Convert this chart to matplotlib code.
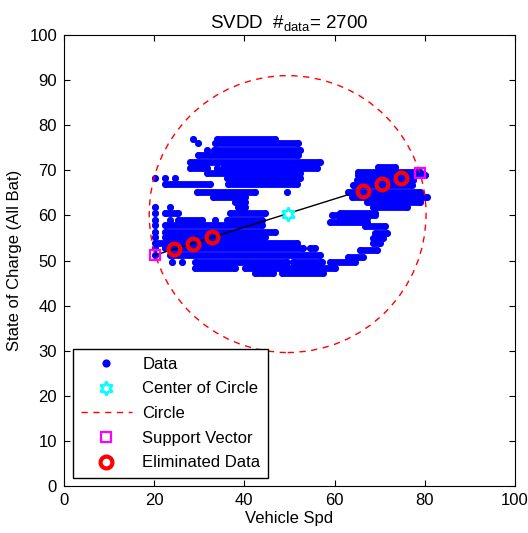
"""SVDD result on vehicle speed vs. state of charge (MATLAB-style figure)."""
import matplotlib
matplotlib.use("Agg")
import matplotlib.pyplot as plt
from matplotlib.lines import Line2D
from matplotlib.patches import Circle

plt.rcParams["font.family"] = ["Liberation Sans", "DejaVu Sans"]
plt.rcParams["mathtext.fontset"] = "custom"
plt.rcParams["mathtext.rm"] = "Liberation Sans"
plt.rcParams["mathtext.it"] = "Liberation Sans"

# data rows: (soc level, speed from, speed to)
data_rows = [
    # upper cluster
    (76.9, 28.6, 28.6), (76.9, 33.9, 46.8),
    (76.1, 29.7, 29.7), (76.1, 33.5, 51.9),
    (74.5, 31.7, 31.7), (74.5, 33.2, 52.3),
    (73.4, 29.7, 51.9),
    (71.8, 27.9, 56.8),
    (70.5, 27.9, 30.8), (70.5, 31.7, 31.7), (70.5, 33.9, 33.9), (70.5, 35.3, 56.1),
    (69.4, 31.7, 52.3),
    (68.3, 20.2, 20.2), (68.3, 22.4, 22.4), (68.3, 24.6, 24.6), (68.3, 36.1, 52.3),
    (67.0, 22.4, 32.4), (67.0, 36.4, 51.7),
    (65.2, 29.5, 42.4), (65.2, 49.4, 49.4),
    (64.1, 33.0, 40.1),
    (63.0, 37.9, 40.1),
    (61.9, 20.2, 20.2), (61.9, 23.5, 23.5), (61.9, 38.6, 40.1),
    # middle cluster
    (60.5, 20.2, 20.2), (60.5, 22.4, 25.3), (60.5, 36.8, 44.6),
    (59.0, 20.2, 20.2), (59.0, 23.5, 23.5), (59.0, 25.3, 30.6), (59.0, 33.5, 33.5),
    (59.0, 36.1, 43.9),
    (57.9, 20.2, 20.2), (57.9, 22.4, 43.9),
    (56.3, 20.2, 20.2), (56.3, 22.4, 46.8),
    (55.2, 20.2, 20.2), (55.2, 22.4, 44.6),
    (53.9, 20.2, 51.7),
    (52.8, 20.2, 20.2), (52.8, 22.4, 53.0), (52.8, 54.5, 55.7),
    (51.2, 20.2, 20.2), (51.2, 23.5, 56.8),
    (49.7, 23.9, 23.9), (49.7, 26.2, 26.2), (49.7, 29.0, 49.4), (49.7, 50.8, 57.2),
    (48.3, 29.0, 37.9), (48.3, 40.1, 60.1),
    (47.2, 42.4, 46.3), (47.2, 48.3, 57.4),
    # middle-right curve
    (60.1, 59.4, 69.0), (58.5, 59.0, 67.2), (57.6, 66.7, 71.2), (56.2, 69.0, 71.6),
    (55.0, 68.5, 70.7), (53.9, 68.5, 70.1), (52.3, 65.6, 69.4), (50.8, 63.0, 66.3),
    (49.7, 59.0, 64.5),
    # right cluster
    (70.7, 69.6, 73.4), (69.6, 65.2, 78.9), (69.0, 65.2, 80.0), (67.8, 65.0, 77.4),
    (66.7, 64.1, 77.2), (65.2, 63.0, 78.9), (64.1, 63.9, 80.5), (63.0, 67.2, 78.9),
    (61.9, 68.5, 76.1), (60.5, 61.2, 69.0), (59.4, 61.2, 67.2),
]

center_x, center_y = 49.6, 60.3
radius = 30.7
sv_x = [20.2, 78.9]
sv_y = [51.2, 69.4]
link_x = [20.2, 63.0]
link_y = [51.2, 64.6]
elim_x = [24.4, 28.6, 32.8, 66.3, 70.5, 74.7]
elim_y = [52.5, 53.7, 55.2, 65.4, 67.0, 68.3]
n_data = 2700

fs = 12
fig = plt.figure(figsize=(5.28, 5.33), dpi=100)
ax = fig.add_axes([0.1212, 0.0882, 0.854, 0.846])

dot = 4.9
for y, x0, x1 in data_rows:
    ax.plot([x0, x1], [y, y], "-", color="blue", lw=dot,
            solid_capstyle="round", zorder=2)
    ax.plot([x0, x1], [y, y], "o", color="blue", ms=dot, mew=0, zorder=2)

dash = (0, (4.5, 4))
ax.plot(link_x, link_y, "k-", lw=1, zorder=3)
ax.add_patch(Circle((center_x, center_y), radius, fill=False, ec="red",
                    ls=dash, lw=1, zorder=3))
star = dict(marker=(6, 1, 0), ms=10, mfc="white", mec="cyan", mew=1.8)
ax.plot(center_x, center_y, ls="none", zorder=4, **star)
ax.plot(sv_x, sv_y, "s", ms=7, mfc="none", mec="magenta", mew=1.6, zorder=4)
ax.plot(elim_x, elim_y, "o", ms=8.5, mfc="none", mec="red", mew=3, zorder=5)

ax.set_xlim(0, 100)
ax.set_ylim(0, 100)
ax.set_xticks(range(0, 101, 20))
ax.set_yticks(range(0, 101, 10))
ax.tick_params(direction="in", top=True, right=True, length=4, labelsize=fs,
               pad=5)
ax.set_xlabel("Vehicle Spd", fontsize=fs, labelpad=2)
ax.set_ylabel("State of Charge (All Bat)", fontsize=fs, labelpad=5)
ax.set_title(r"SVDD  #$_{\rm data}$= " + str(n_data), fontsize=13.5, pad=5)

handles = [
    Line2D([], [], ls="none", marker="o", color="blue", ms=dot),
    Line2D([], [], ls="none", **star),
    Line2D([], [], ls=dash, color="red", lw=1),
    Line2D([], [], ls="none", marker="s", mfc="none", mec="magenta",
           mew=1.6, ms=7),
    Line2D([], [], ls="none", marker="o", mfc="none", mec="red", mew=3, ms=8.5),
]
labels = ["Data", "Center of Circle", "Circle", "Support Vector", "Eliminated Data"]
leg = ax.legend(handles, labels, loc="lower left", bbox_to_anchor=(0.02, 0.018),
                borderaxespad=0, fancybox=False, edgecolor="black",
                fontsize=fs, handlelength=3.1, handletextpad=0.6,
                labelspacing=0.58, borderpad=0.45, framealpha=1)
leg.get_frame().set_linewidth(1)

fig.savefig("out.png", dpi=100)
